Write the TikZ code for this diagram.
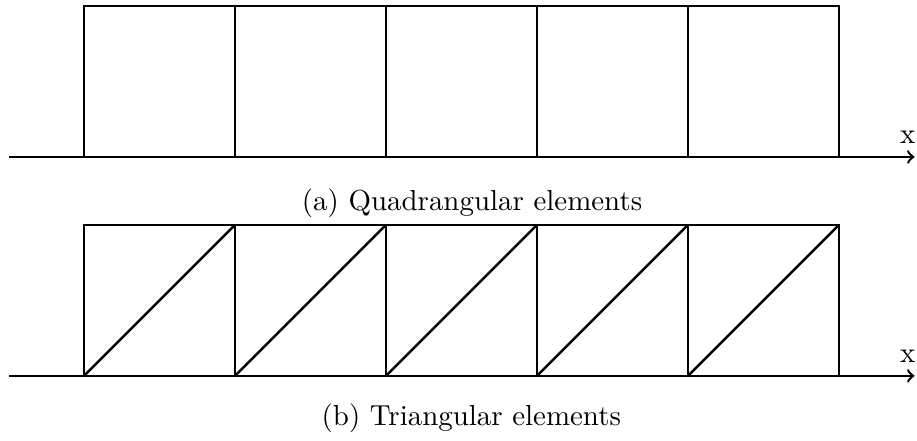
\documentclass[tikz,border=0pt]{standalone}
\usetikzlibrary{positioning}

\begin{document}
\begin{tikzpicture}[
    elem/.style={line width=0.9pt},
    axis/.style={line width=0.9pt, ->},
    caption/.style={font=\fontsize{10.9}{13}\selectfont, anchor=base},
    axislabel/.style={above, xshift=-0.09cm, yshift=0.05cm, font=\fontsize{10.9}{13}\selectfont}
]
\useasboundingbox (-1.113,-3.762) rectangle (11.033,2.079);

% quadrangular elements
\foreach \i in {0,...,4} {
    \draw[elem] (2*\i,0) rectangle (2*\i+2,2);
}
\coordinate (qstart) at (-0.99,0);
\coordinate (qend) at (11.0,0);
\draw[axis] (qstart) -- (qend) node[axislabel] (qx) {x};
\node[caption] (capa) at (5.14,-0.715) {(a) Quadrangular elements};

% triangular elements
\begin{scope}[yshift=-2.9cm]
\foreach \i in {0,...,4} {
    \draw[elem] (2*\i,0) rectangle (2*\i+2,2);
    \draw[elem] (2*\i,0) -- (2*\i+2,2);
}
\coordinate (tstart) at (-0.99,0);
\coordinate (tend) at (11.0,0);
\draw[axis] (tstart) -- (tend) node[axislabel] (tx) {x};
\end{scope}
\node[caption] (capb) at (5.13,-3.563) {(b) Triangular elements};

\end{tikzpicture}
\end{document}
